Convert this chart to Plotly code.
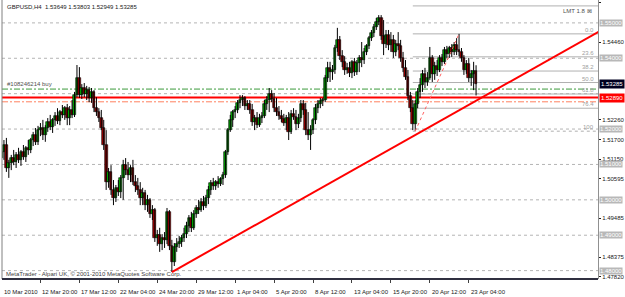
import plotly.graph_objects as go

# ---------------- data (GBPUSD H4, bar index 1..196) ----------------
opens = [
 1.5118,1.5135,1.5155,1.5090,1.5104,1.5118,1.5107,1.5127,1.5113,1.5135,
 1.5121,1.5147,1.5141,1.5169,1.5183,1.5164,1.5197,1.5203,1.5183,1.5203,
 1.5220,1.5206,1.5226,1.5237,1.5223,1.5248,1.5240,1.5259,1.5231,1.5254,
 1.5240,1.5296,1.5344,1.5296,1.5316,1.5299,1.5310,1.5288,1.5305,1.5259,
 1.5248,1.5231,1.5203,1.5155,1.5050,1.5079,1.5028,1.5005,1.5034,1.5022,
 1.5062,1.5098,1.5084,1.5070,1.5090,1.5050,1.5039,1.5028,1.5005,1.5019,
 1.4985,1.5000,1.4960,1.4971,1.4892,1.4901,1.4875,1.4892,1.4887,1.4966,
 1.4870,1.4824,1.4867,1.4875,1.4881,1.4892,1.4903,1.4926,1.4949,1.4921,
 1.4960,1.4977,1.4971,1.4994,1.4983,1.5005,1.5028,1.5047,1.5039,1.5050,
 1.5045,1.5059,1.5070,1.5135,1.5197,1.5226,1.5248,1.5254,1.5274,1.5282,
 1.5288,1.5265,1.5271,1.5254,1.5220,1.5231,1.5211,1.5231,1.5237,1.5271,
 1.5282,1.5299,1.5285,1.5259,1.5248,1.5237,1.5228,1.5217,1.5231,1.5192,
 1.5243,1.5234,1.5214,1.5231,1.5271,1.5254,1.5197,1.5183,1.5197,1.5226,
 1.5259,1.5271,1.5279,1.5282,1.5344,1.5373,1.5361,1.5367,1.5429,1.5452,
 1.5406,1.5390,1.5367,1.5373,1.5358,1.5390,1.5361,1.5387,1.5401,1.5395,
 1.5418,1.5435,1.5457,1.5471,1.5488,1.5502,1.5514,1.5463,1.5440,1.5466,
 1.5438,1.5452,1.5418,1.5440,1.5435,1.5401,1.5373,1.5347,1.5293,1.5259,
 1.5214,1.5271,1.5305,1.5325,1.5356,1.5333,1.5344,1.5401,1.5356,1.5378,
 1.5367,1.5401,1.5390,1.5423,1.5412,1.5429,1.5418,1.5438,1.5423,1.5418,
 1.5401,1.5367,1.5384,1.5344,1.5356,1.53649,
]
highs = [
 1.5147,1.5169,1.5175,1.5113,1.5127,1.5141,1.5135,1.5147,1.5141,1.5155,
 1.5152,1.5169,1.5175,1.5192,1.5203,1.5209,1.5217,1.5226,1.5211,1.5231,
 1.5240,1.5231,1.5248,1.5259,1.5254,1.5268,1.5265,1.5271,1.5265,1.5282,
 1.5305,1.5381,1.5375,1.5327,1.5330,1.5322,1.5319,1.5316,1.5310,1.5290,
 1.5259,1.5254,1.5226,1.5197,1.5090,1.5098,1.5056,1.5042,1.5056,1.5070,
 1.5113,1.5118,1.5107,1.5098,1.5113,1.5070,1.5062,1.5050,1.5034,1.5028,
 1.5014,1.5005,1.4985,1.4977,1.4915,1.4921,1.4903,1.4909,1.4977,1.4971,
 1.4887,1.4878,1.4892,1.4898,1.4901,1.4921,1.4938,1.4957,1.4966,1.4971,
 1.4985,1.5000,1.5005,1.5011,1.5014,1.5039,1.5056,1.5062,1.5056,1.5067,
 1.5064,1.5079,1.5141,1.5203,1.5240,1.5254,1.5265,1.5282,1.5296,1.5296,
 1.5293,1.5282,1.5282,1.5271,1.5240,1.5248,1.5243,1.5248,1.5282,1.5293,
 1.5316,1.5310,1.5302,1.5288,1.5265,1.5254,1.5243,1.5240,1.5248,1.5254,
 1.5259,1.5254,1.5243,1.5282,1.5282,1.5274,1.5248,1.5211,1.5231,1.5271,
 1.5282,1.5288,1.5288,1.5353,1.5390,1.5390,1.5381,1.5438,1.5486,1.5463,
 1.5423,1.5406,1.5387,1.5390,1.5395,1.5401,1.5395,1.5409,1.5446,1.5429,
 1.5440,1.5463,1.5480,1.5497,1.5514,1.5522,1.5522,1.5508,1.5480,1.5480,
 1.5474,1.5466,1.5452,1.5474,1.5452,1.5418,1.5395,1.5367,1.5305,1.5282,
 1.5282,1.5316,1.5344,1.5367,1.5373,1.5361,1.5432,1.5409,1.5390,1.5395,
 1.5409,1.5412,1.5432,1.5435,1.5435,1.5440,1.5446,1.5457,1.5469,1.5429,
 1.5409,1.5395,1.5401,1.5367,1.5390,1.53803,
]
lows = [
 1.5098,1.5113,1.5079,1.5062,1.5084,1.5098,1.5090,1.5104,1.5096,1.5113,
 1.5107,1.5127,1.5132,1.5152,1.5155,1.5155,1.5180,1.5169,1.5164,1.5192,
 1.5197,1.5189,1.5209,1.5214,1.5211,1.5231,1.5226,1.5211,1.5211,1.5231,
 1.5234,1.5290,1.5288,1.5285,1.5290,1.5282,1.5276,1.5274,1.5248,1.5237,
 1.5220,1.5197,1.5141,1.5028,1.5034,1.5014,1.4985,1.4994,1.5011,1.5005,
 1.5000,1.5070,1.5056,1.5050,1.5042,1.5022,1.5014,1.4985,1.4985,1.4971,
 1.4966,1.4949,1.4943,1.4881,1.4870,1.4853,1.4858,1.4864,1.4875,1.4858,
 1.4796,1.4813,1.4853,1.4864,1.4867,1.4881,1.4892,1.4909,1.4909,1.4915,
 1.4949,1.4960,1.4966,1.4971,1.4977,1.4988,1.5014,1.5028,1.5028,1.5034,
 1.5039,1.5042,1.5062,1.5127,1.5192,1.5206,1.5231,1.5245,1.5259,1.5265,
 1.5254,1.5254,1.5243,1.5209,1.5197,1.5203,1.5206,1.5217,1.5231,1.5254,
 1.5248,1.5276,1.5248,1.5237,1.5226,1.5220,1.5209,1.5197,1.5169,1.5186,
 1.5226,1.5197,1.5203,1.5220,1.5240,1.5183,1.5169,1.5141,1.5186,1.5214,
 1.5245,1.5259,1.5265,1.5276,1.5333,1.5333,1.5339,1.5356,1.5418,1.5395,
 1.5375,1.5353,1.5356,1.5347,1.5344,1.5350,1.5353,1.5361,1.5375,1.5384,
 1.5409,1.5426,1.5449,1.5460,1.5480,1.5494,1.5452,1.5409,1.5429,1.5423,
 1.5418,1.5401,1.5406,1.5423,1.5390,1.5361,1.5339,1.5282,1.5248,1.5197,
 1.5195,1.5259,1.5288,1.5305,1.5316,1.5322,1.5339,1.5333,1.5339,1.5350,
 1.5361,1.5378,1.5384,1.5401,1.5401,1.5404,1.5409,1.5409,1.5406,1.5390,
 1.5353,1.5356,1.5333,1.5322,1.5310,1.52949,
]
closes = [
 1.5135,1.5155,1.5090,1.5104,1.5118,1.5107,1.5127,1.5113,1.5135,1.5121,
 1.5147,1.5141,1.5169,1.5183,1.5164,1.5197,1.5203,1.5183,1.5203,1.5220,
 1.5206,1.5226,1.5237,1.5223,1.5248,1.5240,1.5259,1.5231,1.5254,1.5240,
 1.5296,1.5344,1.5296,1.5316,1.5299,1.5310,1.5288,1.5305,1.5259,1.5248,
 1.5231,1.5203,1.5155,1.5050,1.5079,1.5028,1.5005,1.5034,1.5022,1.5062,
 1.5098,1.5084,1.5070,1.5090,1.5050,1.5039,1.5028,1.5005,1.5019,1.4985,
 1.5000,1.4960,1.4971,1.4892,1.4901,1.4875,1.4892,1.4887,1.4966,1.4870,
 1.4824,1.4867,1.4875,1.4881,1.4892,1.4903,1.4926,1.4949,1.4921,1.4960,
 1.4977,1.4971,1.4994,1.4983,1.5005,1.5028,1.5047,1.5039,1.5050,1.5045,
 1.5059,1.5070,1.5135,1.5197,1.5226,1.5248,1.5254,1.5274,1.5282,1.5288,
 1.5265,1.5271,1.5254,1.5220,1.5231,1.5211,1.5231,1.5237,1.5271,1.5282,
 1.5299,1.5285,1.5259,1.5248,1.5237,1.5228,1.5217,1.5231,1.5192,1.5243,
 1.5234,1.5214,1.5231,1.5271,1.5254,1.5197,1.5183,1.5197,1.5226,1.5259,
 1.5271,1.5279,1.5282,1.5344,1.5373,1.5361,1.5367,1.5429,1.5452,1.5406,
 1.5390,1.5367,1.5373,1.5358,1.5390,1.5361,1.5387,1.5401,1.5395,1.5418,
 1.5435,1.5457,1.5471,1.5488,1.5502,1.5514,1.5463,1.5440,1.5466,1.5438,
 1.5452,1.5418,1.5440,1.5435,1.5401,1.5373,1.5347,1.5293,1.5259,1.5214,
 1.5271,1.5305,1.5325,1.5356,1.5333,1.5344,1.5401,1.5356,1.5378,1.5367,
 1.5401,1.5390,1.5423,1.5412,1.5429,1.5418,1.5438,1.5423,1.5418,1.5401,
 1.5367,1.5384,1.5344,1.5356,1.5365,1.53285,
]
bar_idx = list(range(1, len(closes) + 1))

x_tick_idx = [1, 17, 33, 49, 65, 81, 97, 113, 129, 145, 161, 177, 193]
x_tick_text = ["10 Mar 2010", "12 Mar 20:00", "17 Mar 12:00", "22 Mar 04:00",
               "24 Mar 20:00", "29 Mar 12:00", "1 Apr 04:00", "5 Apr 20:00",
               "8 Apr 12:00", "13 Apr 04:00", "15 Apr 20:00", "20 Apr 12:00",
               "23 Apr 04:00"]
y_tick_vals = [1.55590, 1.54460, 1.52260, 1.51700, 1.51150, 1.50595,
               1.49485, 1.48375, 1.47820]
grid_levels = [1.55, 1.54, 1.53, 1.52, 1.51, 1.50, 1.49, 1.48]
box_levels = [1.55, 1.54, 1.52, 1.51, 1.50, 1.49, 1.48]
fib_ratios = [0.0, 23.6, 38.2, 50.0, 61.8, 76.4, 100.0]
fib_high, fib_low = 1.5469, 1.5194
fib_high_idx, fib_low_idx = 189, 171
trend_pts_idx = [71, 250]
trend_pts_px = [1.4796, 1.5489]
buy_price = 1.5313
sl_price = 1.52890
sl2_price = 1.5277
lmt_price = 1.5548
last_price = 1.53285

X0, X1 = 1.2, 246.1
Y0, Y1 = 1.47763, 1.55647
FONT = "Liberation Sans"

fig = go.Figure()

shapes = []
for g in grid_levels:
    shapes.append(dict(type="line", xref="x", yref="y", x0=X0, x1=X1, y0=g, y1=g,
                       line=dict(color="#b4b4b4", width=1, dash="3px,3px"), layer="below"))
fib_levels = [fib_high - r / 100 * (fib_high - fib_low) for r in fib_ratios]
for r, lv in zip(fib_ratios, fib_levels):
    shapes.append(dict(type="line", xref="x", yref="y", x0=fib_low_idx - 1, x1=X1, y0=lv, y1=lv,
                       line=dict(color="#b0b0b0", width=1,
                                 dash="dot" if r == 100.0 else "solid"), layer="below"))
shapes.append(dict(type="line", xref="x", yref="y", x0=fib_low_idx - 1, x1=X1, y0=lmt_price,
                   y1=lmt_price, line=dict(color="#b0b0b0", width=1), layer="below"))
shapes.append(dict(type="line", xref="x", yref="y", x0=X0, x1=X1, y0=buy_price, y1=buy_price,
                   line=dict(color="#3c9a3c", width=1, dash="6px,2px,2px,2px"), layer="below"))
shapes.append(dict(type="line", xref="x", yref="y", x0=X0, x1=X1, y0=sl_price, y1=sl_price,
                   line=dict(color="#ff0000", width=2), layer="below"))
shapes.append(dict(type="line", xref="x", yref="y", x0=X0, x1=X1, y0=sl2_price, y1=sl2_price,
                   line=dict(color="#ff8060", width=1, dash="6px,2px,2px,2px"), layer="below"))
shapes.append(dict(type="line", xref="x", yref="y", x0=fib_low_idx, x1=fib_high_idx,
                   y0=fib_low, y1=fib_high, line=dict(color="#ff6060", width=1, dash="dot")))
shapes.append(dict(type="line", xref="paper", yref="paper", x0=0, x1=0, y0=0, y1=1,
                   line=dict(color="#808080", width=1)))
shapes.append(dict(type="line", xref="paper", yref="paper", x0=0, x1=1, y0=0, y1=0,
                   line=dict(color="#303040", width=2)))

wx, wy = [], []
for i, h, l in zip(bar_idx, highs, lows):
    wx += [i, i, None]
    wy += [l, h, None]
fig.add_trace(go.Scatter(x=wx, y=wy, mode="lines", line=dict(color="#000000", width=1),
                         hoverinfo="skip", showlegend=False))
up = [c >= o for o, c in zip(opens, closes)]
base = [min(o, c) for o, c in zip(opens, closes)]
hgt = [max(abs(c - o), 0.00005) for o, c in zip(opens, closes)]
fig.add_trace(go.Bar(x=bar_idx, y=hgt, base=base, width=1.1,
                     marker=dict(color=["#00b000" if u else "#a00000" for u in up],
                                 line=dict(color="#000000", width=0.6)),
                     showlegend=False, hoverinfo="skip"))
fig.add_trace(go.Scatter(x=trend_pts_idx, y=trend_pts_px, mode="lines",
                         line=dict(color="#ff0000", width=2), showlegend=False, hoverinfo="skip"))

ann = []
ann.append(dict(text="GBPUSD,H4  1.53649 1.53803 1.52949 1.53285", xref="paper", yref="paper",
                x=0, y=1, xanchor="left", yanchor="top", xshift=3, yshift=-2, showarrow=False,
                font=dict(family=FONT, size=6, color="#202020")))
ann.append(dict(text="#108246214 buy", xref="paper", yref="y", x=0, y=buy_price,
                xanchor="left", yanchor="bottom", xshift=3, showarrow=False,
                font=dict(family=FONT, size=6, color="#505050")))
ann.append(dict(text="LMT 1.8 \u22a0", xref="x", yref="y", x=X1, y=lmt_price,
                xanchor="right", yanchor="top", xshift=-4, showarrow=False,
                font=dict(family=FONT, size=6, color="#505050")))
for r, lv in zip(fib_ratios, fib_levels):
    ann.append(dict(text=("%.1f" % r) if r < 100 else "100", xref="x", yref="y", x=X1, y=lv,
                    xanchor="right", yanchor="bottom", xshift=-2, yshift=-1, showarrow=False,
                    font=dict(family=FONT, size=6, color="#a0a0a0")))
ann.append(dict(text="MetaTrader - Alpari UK, \u00a9 2001-2010 MetaQuotes Software Corp.",
                xref="paper", yref="paper", x=0, y=0, xanchor="left", yanchor="bottom",
                xshift=2, yshift=0, showarrow=False,
                font=dict(family=FONT, size=6, color="#404040")))
for t, s in zip(x_tick_idx, x_tick_text):
    ann.append(dict(text=s, xref="paper" if t < X0 else "x", yref="paper",
                    x=0 if t < X0 else t, y=0, xanchor="left", yanchor="middle",
                    xshift=0, yshift=-13, showarrow=False,
                    font=dict(family=FONT, size=6, color="#202020")))
for g in box_levels:
    ann.append(dict(text="%.5f" % g, xref="paper", yref="y", x=1, y=g, xanchor="left",
                    yanchor="middle", xshift=1, showarrow=False, bgcolor="#b8b8b8",
                    borderpad=0, font=dict(family=FONT, size=6, color="#ffffff")))
ann.append(dict(text="%.5f" % last_price, xref="paper", yref="y", x=1, y=last_price, xanchor="left",
                yanchor="middle", xshift=1, showarrow=False, bgcolor="#000020", borderpad=1,
                font=dict(family=FONT, size=6, color="#ffffff")))
ann.append(dict(text="%.5f" % sl_price, xref="paper", yref="y", x=1, y=sl_price, xanchor="left",
                yanchor="middle", xshift=1, showarrow=False, bgcolor="#ff0000", borderpad=1,
                font=dict(family=FONT, size=6, color="#ffffff")))

fig.update_layout(
    width=625, height=297, margin=dict(l=2, r=23, t=0, b=18),
    paper_bgcolor="white", plot_bgcolor="white", bargap=0,
    shapes=shapes, annotations=ann,
    xaxis=dict(range=[X0, X1], showgrid=False, zeroline=False, tickvals=x_tick_idx,
               ticks="outside", ticklen=3, tickcolor="#404040", showticklabels=False),
    yaxis=dict(range=[Y0, Y1], side="right", showgrid=False, zeroline=False,
               tickvals=y_tick_vals, ticktext=["%.5f" % v for v in y_tick_vals],
               ticks="outside", ticklen=2, tickcolor="#202020",
               tickfont=dict(family=FONT, size=6, color="#202020"),
               showline=True, linecolor="#909090", linewidth=1),
)
fig.write_html("out.html")
